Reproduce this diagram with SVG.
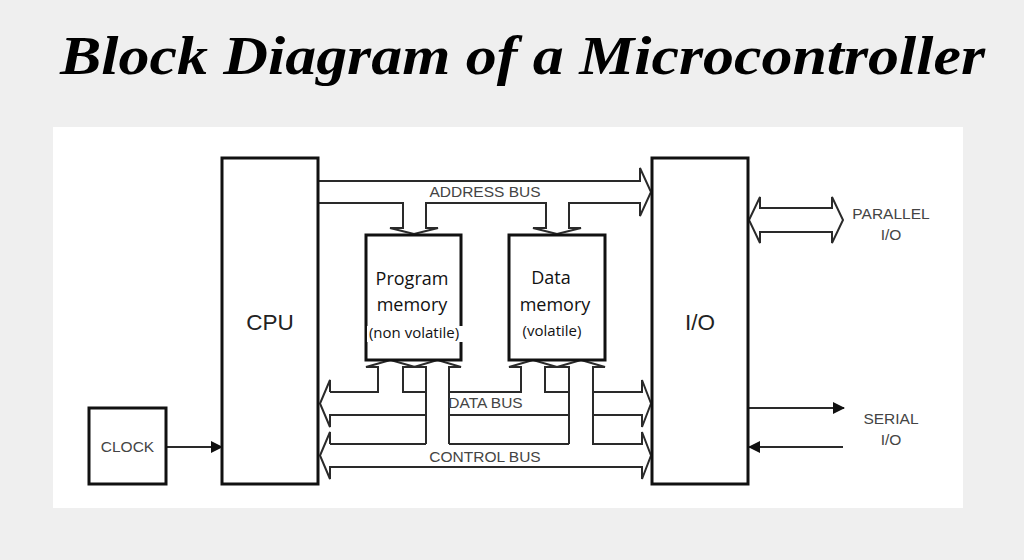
<svg xmlns="http://www.w3.org/2000/svg" width="1024" height="560" viewBox="0 0 1024 560">
  <defs>
    <style>
      .box { fill: #fff; stroke: #111; stroke-width: 3; }
      .bus { fill: none; stroke: #2a2a2a; stroke-width: 2; stroke-linejoin: miter; }
      .wire { fill: none; stroke: #2a2a2a; stroke-width: 2; }
      .lbl { font-family: 'Liberation Sans', Arial, sans-serif; fill: #444; font-size: 15.5px; text-anchor: middle; }
      .big { font-family: 'Liberation Sans', Arial, sans-serif; fill: #222; font-size: 22.5px; text-anchor: middle; }
      .mem { font-family: 'Open Sans', 'Noto Sans', sans-serif; fill: #111; font-size: 18px; text-anchor: middle; }
      .memsm { font-family: 'Open Sans', 'Noto Sans', sans-serif; fill: #111; font-size: 15px; text-anchor: middle; }
      .title { font-family: 'Liberation Serif', serif; font-style: italic; font-weight: bold; font-size: 54px; fill: #000; }
    </style>
    <marker id="tri" viewBox="0 0 12 12" refX="11" refY="6" markerWidth="12" markerHeight="12" markerUnits="userSpaceOnUse" orient="auto">
      <path d="M0,0 L12,6 L0,12 Z" fill="#111"/>
    </marker>
  </defs>

  <rect x="0" y="0" width="1024" height="560" fill="#efefef"/>
  <text class="title" x="60" y="74" textLength="925" lengthAdjust="spacingAndGlyphs">Block Diagram of a Microcontroller</text>
  <rect x="53" y="127" width="910" height="381" fill="#fff"/>

  <g id="connectors">
    <!-- Address bus -->
    <path class="bus" d="M319,181 H640 V168 L651,192 L640,216 V203 H569 V228 H581 L557,234 L533,228 H546 V203 H426 V228 H438 L414,234 L390,228 H403 V203 H319"/>
    <!-- Data bus -->
    <path class="bus" d="M330,392 V380 L320,403.5 L330,427 V415 H426"/>
    <path class="bus" d="M449,415 H569"/>
    <path class="bus" d="M593,415 H642 V427 L651,403.5 L642,380 V392 H593 V367 H605 L581,360 L557,367 H569 V444"/>
    <path class="bus" d="M330,392 H378 V367 H366 L390.5,360 L415,367 H403 V392 H426"/>
    <path class="bus" d="M426,444 V367 H414 L437.5,360 L461,367 H449 V444"/>
    <path class="bus" d="M449,392 H521 V367 H509 L533,360 L557,367 H545 V392 H569"/>
    <!-- Control bus -->
    <path class="bus" d="M330,444 V432 L320,455.5 L330,479 V467 H642 V479 L651,455.5 L642,432 V444 H593 V392"/>
    <path class="bus" d="M330,444 H426"/>
    <path class="bus" d="M449,444 H569"/>
    <!-- Parallel I/O -->
    <path class="bus" d="M749,220 L760,197 V208 H832 V197 L843,220 L832,243 V232 H760 V243 Z"/>
    <!-- Serial I/O -->
    <line class="wire" x1="749" y1="408" x2="844" y2="408" marker-end="url(#tri)"/>
    <line class="wire" x1="843" y1="447" x2="749" y2="447" marker-end="url(#tri)"/>
    <!-- Clock -->
    <line class="wire" x1="166" y1="447" x2="222" y2="447" marker-end="url(#tri)"/>
  </g>

  <g id="cpu">
    <rect class="box" x="222" y="158" width="96" height="326"/>
    <text class="big" x="270" y="330">CPU</text>
  </g>
  <g id="io">
    <rect class="box" x="652" y="158" width="96" height="326"/>
    <text class="big" x="700" y="330">I/O</text>
  </g>
  <g id="clock">
    <rect class="box" x="89" y="408" width="77" height="76"/>
    <text class="lbl" x="127.5" y="452">CLOCK</text>
  </g>
  <g id="program-memory">
    <rect class="box" x="366" y="235" width="95" height="125"/>
    <text class="mem" x="412" y="285">Program</text>
    <text class="mem" x="412" y="311">memory</text>
    <rect x="367" y="326" width="96" height="16" fill="#fff"/>
    <text class="memsm" x="414" y="338">(non volatile)</text>
  </g>
  <g id="data-memory">
    <rect class="box" x="509" y="235" width="96" height="125"/>
    <text class="mem" x="551" y="284">Data</text>
    <text class="mem" x="555" y="311">memory</text>
    <text class="memsm" x="552" y="336">(volatile)</text>
  </g>

  <g id="labels">
    <text class="lbl" x="485" y="197">ADDRESS BUS</text>
    <text class="lbl" x="485.5" y="408">DATA BUS</text>
    <text class="lbl" x="485" y="462">CONTROL BUS</text>
    <text class="lbl" x="891" y="219">PARALLEL</text>
    <text class="lbl" x="891" y="240">I/O</text>
    <text class="lbl" x="891" y="424">SERIAL</text>
    <text class="lbl" x="891" y="445">I/O</text>
  </g>
</svg>
